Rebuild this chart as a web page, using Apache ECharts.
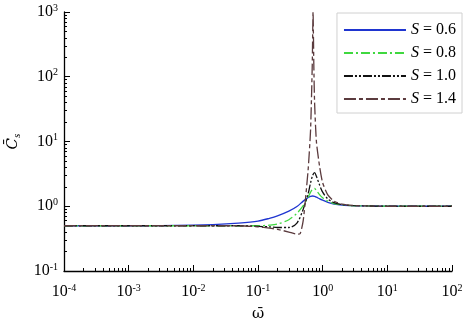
<!DOCTYPE html>
<html>
<head>
<meta charset="utf-8">
<script src="https://cdn.jsdelivr.net/npm/echarts@6/dist/echarts.min.js"></script>
<style>
  html, body { margin: 0; padding: 0; background: #fff; }
  #chart { width: 464px; height: 323px; }
</style>
</head>
<body>
<div id="chart"></div>
<script>
// (log-log)
let omega = [1e-4, 1e-3, 1e-2, 0.02, 0.05, 0.1, 0.15, 0.2, 0.3, 0.4, 0.5, 0.6, 0.65, 0.7, 0.75, 0.8, 0.9, 1.0, 1.2, 1.5, 2, 3, 5, 10, 100];
let cs06 = [0.5, 0.5, 0.51, 0.52, 0.55, 0.59, 0.65, 0.71, 0.84, 0.99, 1.2, 1.37, 1.42, 1.44, 1.42, 1.38, 1.3, 1.24, 1.15, 1.08, 1.04, 1.02, 1.01, 1.0, 1.0];
let cs08 = [0.5, 0.5, 0.5, 0.5, 0.5, 0.5, 0.51, 0.53, 0.62, 0.78, 1.02, 1.4, 1.65, 1.85, 1.88, 1.75, 1.5, 1.35, 1.2, 1.1, 1.05, 1.02, 1.01, 1.0, 1.0];
let cs10 = [0.5, 0.5, 0.5, 0.5, 0.5, 0.49, 0.48, 0.47, 0.47, 0.55, 0.9, 1.6, 2.3, 3.0, 3.3, 2.9, 2.1, 1.65, 1.3, 1.14, 1.06, 1.02, 1.01, 1.0, 1.0];

let omega14 = [1e-4, 1e-3, 1e-2, 0.05, 0.1, 0.15, 0.2, 0.3, 0.4, 0.45, 0.5, 0.55, 0.6, 0.65, 0.69, 0.71, 0.73, 0.75, 0.8, 0.9, 1.0, 1.2, 1.5, 2, 3, 5, 10, 100];
let cs14 = [0.5, 0.5, 0.5, 0.5, 0.48, 0.46, 0.44, 0.4, 0.37, 0.38, 0.6, 1.5, 4, 15, 150, 1000, 150, 40, 10, 4, 2.3, 1.5, 1.2, 1.08, 1.03, 1.01, 1.0, 1.0];

let sValues = ['0.6', '0.8', '1.0', '1.4'];
let xExponents = [-4, -3, -2, -1, 0, 1, 2];
let yExponents = [-1, 0, 1, 2, 3];

let font = "'Liberation Serif', 'Times New Roman', serif";

let pairs = (xs, ys) => xs.map((x, i) => [x, ys[i]]);

let minorTicks = (lo, hi) => {
    let out = [];
    for (let e = lo; e < hi; e++) {
        for (let k = 2; k <= 9; k++) out.push(k * Math.pow(10, e));
    }
    return out;
};

let powLabel = v => {
    let e = Math.round(Math.log10(v));
    return '{b|10}{s|' + e + '}';
};

let labelRich = {
    b: { fontFamily: font, fontSize: 16, lineHeight: 18, color: '#000' },
    s: { fontFamily: font, fontSize: 10, lineHeight: 10, verticalAlign: 'top', color: '#000' }
};

let axisLine = { show: true, onZero: false, lineStyle: { color: '#000', width: 1.3 } };

let chart = echarts.init(document.getElementById('chart'), null, { renderer: 'canvas' });

let option = {
    animation: false,
    backgroundColor: '#fff',
    grid: { left: 64, right: 12, top: 12, bottom: 52, outerBoundsMode: 'none' },
    legend: {
        orient: 'vertical',
        right: 2,
        top: 13,
        itemWidth: 62,
        itemHeight: 12,
        itemGap: 7,
        padding: [9, 6, 6, 6],
        borderColor: '#d0d0d0',
        borderWidth: 1,
        backgroundColor: '#fff',
        itemStyle: { color: 'transparent', borderColor: 'transparent', borderWidth: 0 },
        formatter: name => '{i|S} = ' + name.split('=')[1],
        textStyle: {
            fontFamily: font,
            fontSize: 16,
            color: '#000',
            rich: {
                i: { fontFamily: font, fontSize: 16, fontStyle: 'italic', color: '#000' }
            }
        },
        data: sValues.map(s => 'S=' + s)
    },
    xAxis: [
        {
            type: 'log',
            min: Math.pow(10, xExponents[0]),
            max: Math.pow(10, xExponents[xExponents.length - 1]),
            logBase: 10,
            name: '\u03c9\u0304',
            nameLocation: 'middle',
            nameGap: 36,
            nameTextStyle: { fontFamily: "'DejaVu Serif'", fontSize: 15, color: '#000' },
            axisLine: axisLine,
            axisTick: { inside: true, length: 6, lineStyle: { color: '#000' } },
            axisLabel: { formatter: powLabel, rich: labelRich, margin: 12 },
            splitLine: { show: false }
        },
        {
            type: 'log',
            min: Math.pow(10, xExponents[0]),
            max: Math.pow(10, xExponents[xExponents.length - 1]),
            position: 'bottom',
            axisLine: { show: false },
            axisTick: { inside: true, length: 3, customValues: minorTicks(-4, 2), lineStyle: { color: '#000' } },
            axisLabel: { show: false },
            splitLine: { show: false }
        }
    ],
    yAxis: [
        {
            type: 'log',
            min: Math.pow(10, yExponents[0]),
            max: Math.pow(10, yExponents[yExponents.length - 1]),
            logBase: 10,
            name: '{c|C\u0304}{sub|s}',
            nameLocation: 'middle',
            nameGap: 39,
            nameRotate: 90,
            nameTextStyle: {
                rich: {
                    c: { fontFamily: "'DejaVu Serif'", fontSize: 15, fontStyle: 'italic', color: '#000', lineHeight: 20 },
                    sub: { fontFamily: font, fontSize: 11, fontStyle: 'italic', color: '#000', verticalAlign: 'bottom', lineHeight: 12 }
                }
            },
            axisLine: axisLine,
            axisTick: { inside: true, length: 6, lineStyle: { color: '#000' } },
            axisLabel: { formatter: powLabel, rich: labelRich, margin: 6 },
            splitLine: { show: false }
        },
        {
            type: 'log',
            min: Math.pow(10, yExponents[0]),
            max: Math.pow(10, yExponents[yExponents.length - 1]),
            position: 'left',
            axisLine: { show: false },
            axisTick: { inside: true, length: 3, customValues: minorTicks(-1, 3), lineStyle: { color: '#000' } },
            axisLabel: { show: false },
            splitLine: { show: false }
        }
    ],
    series: [
        {
            name: 'S=' + sValues[0], type: 'line', symbol: 'none', smooth: 0.3,
            lineStyle: { color: '#1f35d0', width: 1.3, type: 'solid' },
            itemStyle: { color: '#1f35d0' },
            data: pairs(omega, cs06)
        },
        {
            name: 'S=' + sValues[1], type: 'line', symbol: 'none', smooth: 0.3,
            lineStyle: { color: '#3fd83f', width: 1.3, type: [9, 3, 2, 3] },
            itemStyle: { color: '#3fd83f' },
            data: pairs(omega, cs08)
        },
        {
            name: 'S=' + sValues[2], type: 'line', symbol: 'none', smooth: 0.3,
            lineStyle: { color: '#111', width: 1.3, type: [9, 2, 2, 2, 2, 2] },
            itemStyle: { color: '#111' },
            data: pairs(omega, cs10)
        },
        {
            name: 'S=' + sValues[3], type: 'line', symbol: 'none', smooth: 0.2,
            lineStyle: { color: '#5b3b3e', width: 1.3, type: [12, 3, 4, 3] },
            itemStyle: { color: '#5b3b3e' },
            data: pairs(omega14, cs14)
        }
    ]
};

chart.setOption(option);
</script>
</body>
</html>
